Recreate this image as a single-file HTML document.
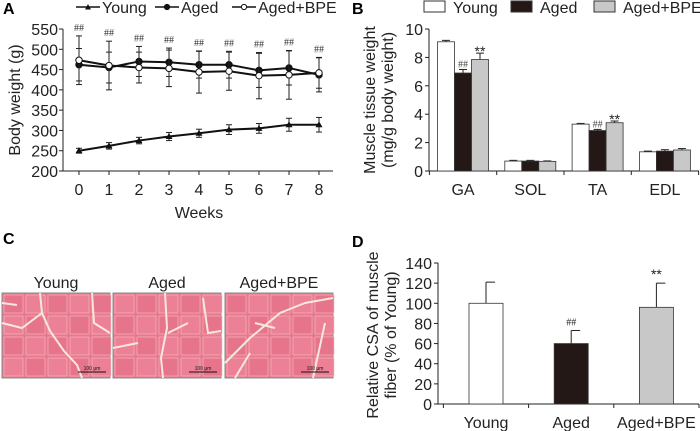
<!DOCTYPE html>
<html><head><meta charset="utf-8"><style>
body{margin:0;background:#fff;}
svg{display:block;font-family:"Liberation Sans",Arial,sans-serif;}
</style></head><body>
<svg id="fig" width="700" height="431" viewBox="0 0 700 431">
<g id="gA"></g>
<g id="gB"></g>
<g id="gC"></g>
<g id="gD"></g>
</svg>
<script>
// Panel A data
const weeks = [0,1,2,3,4,5,6,7,8];
const youngW = [250,262,275,285,293,302,305,314,314];
const youngE = [6,8,8,10,10,12,12,16,18];
const agedW = [462,455,470,468,462,462,448,454,437];
const agedE = [40,38,37,35,33,33,42,42,42];
const bpeW = [473,460,455,453,444,446,435,437,442];
const bpeE = [60,60,38,45,52,47,57,60,38];
const yTicksA = [200,250,300,350,400,450,500,550];
// Panel B data
const muscles = ['GA','SOL','TA','EDL'];
const bYoung = [9.1,0.7,3.3,1.35];
const bYoungE = [0.1,0.05,0.05,0.05];
const bAged = [6.9,0.7,2.85,1.4];
const bAgedE = [0.25,0.05,0.08,0.1];
const bBpe = [7.85,0.68,3.4,1.48];
const bBpeE = [0.45,0.03,0.12,0.1];
const bMarksAged = ['##','','##',''];
const bMarksBpe = ['**','','**',''];
const yTicksB = [0,2,4,6,8,10];
// Panel D data
const groupsD = ['Young','Aged','Aged+BPE'];
const dVals = [100,60,96];
const dErr = [21,13,24];
const dMarks = ['','##','**'];
const yTicksD = [0,20,40,60,80,100,120,140];

const NS='http://www.w3.org/2000/svg';
const FS=16;
function mk(parent,tag,attrs,text){const e=document.createElementNS(NS,tag);for(const k in attrs)e.setAttribute(k,attrs[k]);if(text!==undefined)e.textContent=text;parent.appendChild(e);return e;}

// ---------- Panel A ----------
const gA=document.getElementById('gA');
const xA=w=>79+w*30, yA=v=>171-(v-200)*142/350;
let t=mk(gA,'text',{x:3,y:14,'font-size':16,'font-weight':'bold'},'A');

let ax=mk(gA,'path',{d:'M63,29 V171 H333',stroke:'#222',fill:'none','stroke-width':1});

yTicksA.forEach(v=>{mk(gA,'line',{x1:59,x2:63,y1:yA(v),y2:yA(v),stroke:'#222'});
 const l=mk(gA,'text',{x:58,y:yA(v)+6,'font-size':FS,'text-anchor':'end',fill:'#222'},v);
 });
weeks.forEach(w=>{mk(gA,'line',{x1:xA(w),x2:xA(w),y1:171,y2:175,stroke:'#222'});
 const l=mk(gA,'text',{x:xA(w),y:195,'font-size':FS,'text-anchor':'middle',fill:'#222'},w);
 });
t=mk(gA,'text',{x:199,y:218,'font-size':FS,'text-anchor':'middle',fill:'#222'},'Weeks');

t=mk(gA,'text',{x:0,y:0,'font-size':FS,'text-anchor':'middle',fill:'#222',transform:'translate(20,100) rotate(-90)'},'Body weight (g)');

function series(vals,errs,name,marker){
 const g=mk(gA,'g',{});
 
 vals.forEach((v,i)=>{const x=xA(weeks[i]);mk(g,'line',{x1:x,x2:x,y1:yA(v-errs[i]),y2:yA(v+errs[i]),stroke:'#222','stroke-width':1});
  mk(g,'line',{x1:x-3,x2:x+3,y1:yA(v-errs[i]),y2:yA(v-errs[i]),stroke:'#222'});
  mk(g,'line',{x1:x-3,x2:x+3,y1:yA(v+errs[i]),y2:yA(v+errs[i]),stroke:'#222'});});
 mk(g,'polyline',{points:vals.map((v,i)=>xA(weeks[i])+','+yA(v)).join(' '),fill:'none',stroke:'#111','stroke-width':2});
 vals.forEach((v,i)=>{const x=xA(weeks[i]),y=yA(v);let m;
  if(marker==='tri')m=mk(g,'path',{d:`M${x},${y-3.5} L${x+3.5},${y+2.5} L${x-3.5},${y+2.5}Z`,fill:'#111'});
  else m=mk(g,'circle',{cx:x,cy:y,r:3.2,fill:marker==='open'?'#fff':'#111',stroke:'#111','stroke-width':1});
  });
}
series(youngW,youngE,'young-series','tri');
series(agedW,agedE,'aged-series','fill');
series(bpeW,bpeE,'aged-bpe-series','open');
weeks.forEach((w,i)=>{const top=Math.max(agedW[i]+agedE[i],bpeW[i]+bpeE[i]);
 const l=mk(gA,'text',{x:xA(w),y:yA(top)-5,'font-size':10,'text-anchor':'middle',fill:'#333','font-family':'Liberation Serif,serif'},'##');
 });
function legA(x,label,marker,name){const g=mk(gA,'g',{});
 mk(g,'line',{x1:x,x2:x+24,y1:7,y2:7,stroke:'#111','stroke-width':1.5});
 if(marker==='tri')mk(g,'path',{d:`M${x+12},${4} L${x+15},${9.5} L${x+9},${9.5}Z`,fill:'#111'});
 else mk(g,'circle',{cx:x+12,cy:7,r:2.6,fill:marker==='open'?'#fff':'#111',stroke:'#111'});
 mk(g,'text',{x:x+26,y:13,'font-size':FS,fill:'#222'},label);}
legA(76,'Young','tri','legend-young');
legA(155,'Aged','fill','legend-aged');
legA(232,'Aged+BPE','open','legend-aged-bpe');

// ---------- Panel B ----------
const gB=document.getElementById('gB');
const yB=v=>171-v*14.2;
const gcB=i=>463+i*67.3;
t=mk(gB,'text',{x:352,y:14,'font-size':16,'font-weight':'bold'},'B');

ax=mk(gB,'path',{d:'M429,29 V171 H699',stroke:'#222',fill:'none'});

yTicksB.forEach(v=>{mk(gB,'line',{x1:425,x2:429,y1:yB(v),y2:yB(v),stroke:'#222'});
 const l=mk(gB,'text',{x:423,y:yB(v)+6,'font-size':FS,'text-anchor':'end',fill:'#222'},v);
 });
[0,1,2,3,4].forEach(i=>{const x=gcB(i)-33.6;mk(gB,'line',{x1:x,x2:x,y1:171,y2:175,stroke:'#222'});});
muscles.forEach((m,i)=>{const l=mk(gB,'text',{x:gcB(i),y:195,'font-size':FS,'text-anchor':'middle',fill:'#222'},m);
 });
t=mk(gB,'text',{'font-size':FS,'text-anchor':'middle',fill:'#222',transform:'translate(375,100) rotate(-90)'},'Muscle tissue weight');

t=mk(gB,'text',{'font-size':FS,'text-anchor':'middle',fill:'#222',transform:'translate(393,100) rotate(-90)'},'(mg/g body weight)');

const bSeries=[[bYoung,bYoungE,'#fff','young'],[bAged,bAgedE,'#231815','aged'],[bBpe,bBpeE,'#c8c8c8','aged-bpe']];
bSeries.forEach(([vals,errs,col,nm],s)=>{vals.forEach((v,i)=>{const x=gcB(i)-25.5+s*17;
 mk(gB,'line',{x1:x+8.5,x2:x+8.5,y1:yB(v),y2:yB(v+errs[i]),stroke:'#222'});
 mk(gB,'line',{x1:x+4.5,x2:x+12.5,y1:yB(v+errs[i]),y2:yB(v+errs[i]),stroke:'#222'});
 const r=mk(gB,'rect',{x:x,y:yB(v),width:17,height:171-yB(v),fill:col,stroke:'#333','stroke-width':0.8});
 });});
muscles.forEach((m,i)=>{
 if(bMarksAged[i]){const l=mk(gB,'text',{x:gcB(i),y:yB(bAged[i]+bAgedE[i])-2,'font-size':10,'text-anchor':'middle',fill:'#444','font-family':'Liberation Serif,serif'},bMarksAged[i]);
  }
 if(bMarksBpe[i]){const l=mk(gB,'text',{x:gcB(i)+17,y:yB(bBpe[i]+bBpeE[i])+3,'font-size':14,'text-anchor':'middle',fill:'#222'},bMarksBpe[i]);
  }});
function legB(x,label,col,name){const g=mk(gB,'g',{});
 mk(g,'rect',{x:x,y:1,width:21,height:11,fill:col,stroke:'#333'});mk(g,'text',{x:x+29,y:13,'font-size':FS,fill:'#222'},label);}
legB(424,'Young','#fff','legend-b-young');legB(511,'Aged','#231815','legend-b-aged');legB(594,'Aged+BPE','#c8c8c8','legend-b-aged-bpe');

// ---------- Panel C ----------
const gC=document.getElementById('gC');
t=mk(gC,'text',{x:3,y:244,'font-size':16,'font-weight':'bold'},'C');

const imgs=[[2,'Young'],[113,'Aged'],[225,'Aged+BPE']];
const cracks=[
 ['M38,0 L40,20 L48,38 L62,58 L75,72 L80,85','M0,30 L20,35 L40,20','M0,10 L15,12','M90,0 L92,30 L108,40'],
 ['M52,0 L54,35 L48,65 L50,85','M90,5 L95,40 L108,38','M0,55 L25,50','M55,40 L75,30'],
 ['M0,70 L25,45 L55,20 L80,10 L108,5','M10,85 L25,60','M100,30 L88,85','M30,30 L50,35']];
imgs.forEach(([x,l],i)=>{const g=mk(gC,'g',{transform:`translate(${x},293)`});
 
 mk(g,'rect',{x:0,y:0,width:108,height:85,fill:'#e8788e',stroke:'#888'});
 for(let r=0;r<4;r++)for(let c=0;c<5;c++){mk(g,'rect',{x:c*22+2,y:r*21+2,width:19,height:18,fill:(r+c+i)%2?'#ec8096':'#e6748a',stroke:'#f3c0c6','stroke-width':0.6});}
 cracks[i].forEach(d=>mk(g,'path',{d:d,stroke:'#f8e8da',fill:'none','stroke-width':2}));
 mk(g,'line',{x1:76,x2:104,y1:79,y2:79,stroke:'#111'});
 mk(g,'text',{x:90,y:77,'font-size':5,'text-anchor':'middle',fill:'#111'},'100 μm');
 const tl=mk(gC,'text',{x:x+54,y:288,'font-size':FS,'text-anchor':'middle',fill:'#222'},l);
 });

// ---------- Panel D ----------
const gD=document.getElementById('gD');
const yD=v=>404-v*141/140;
const xD=i=>486+i*85.2;
t=mk(gD,'text',{x:352,y:247,'font-size':16,'font-weight':'bold'},'D');

ax=mk(gD,'path',{d:'M438,263 V404 H699',stroke:'#222',fill:'none'});

yTicksD.forEach(v=>{mk(gD,'line',{x1:434,x2:438,y1:yD(v),y2:yD(v),stroke:'#222'});
 const l=mk(gD,'text',{x:432,y:yD(v)+6,'font-size':FS,'text-anchor':'end',fill:'#222'},v);
 });
[0,1,2,3].forEach(i=>{const x=xD(i)-42.6;mk(gD,'line',{x1:x,x2:x,y1:404,y2:408,stroke:'#222'});});
const dCols=['#fff','#231815','#c8c8c8'];
groupsD.forEach((g,i)=>{const v=dVals[i],e=dErr[i],x=xD(i);
 mk(gD,'line',{x1:x,x2:x,y1:yD(v),y2:yD(v+e),stroke:'#222'});
 mk(gD,'line',{x1:x,x2:x+9,y1:yD(v+e),y2:yD(v+e),stroke:'#222'});
 const r=mk(gD,'rect',{x:x-17,y:yD(v),width:34,height:404-yD(v),fill:dCols[i],stroke:'#333','stroke-width':0.8});
 
 const l=mk(gD,'text',{x:x,y:428,'font-size':FS,'text-anchor':'middle',fill:'#222'},g);
 
 if(dMarks[i]){const m=mk(gD,'text',{x:x,y:yD(v+e)-(dMarks[i]=='**'?4:5),'font-size':dMarks[i]=='**'?14:10,'text-anchor':'middle',fill:'#222','font-family':dMarks[i]=='##'?'Liberation Serif,serif':'Liberation Sans,sans-serif'},dMarks[i]);
  }});
t=mk(gD,'text',{'font-size':FS,'text-anchor':'middle',fill:'#222',transform:'translate(378,335) rotate(-90)'},'Relative CSA of muscle');

t=mk(gD,'text',{'font-size':FS,'text-anchor':'middle',fill:'#222',transform:'translate(396,335) rotate(-90)'},'fiber (% of Young)');

</script>
</body></html>
